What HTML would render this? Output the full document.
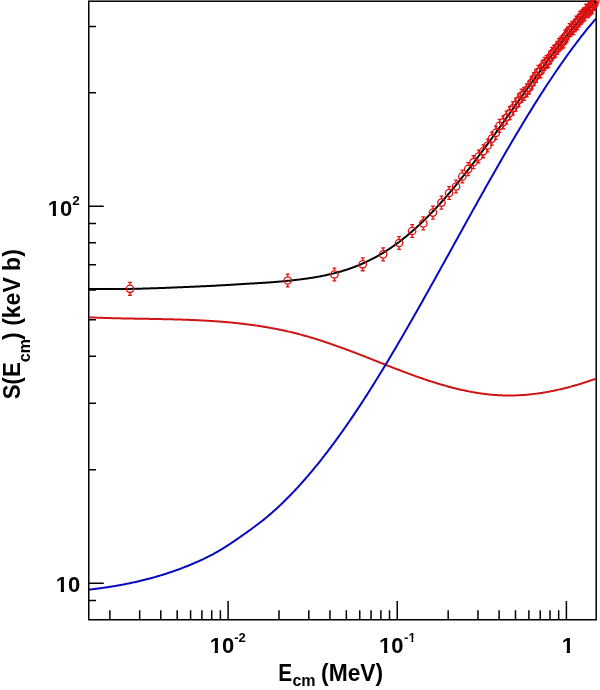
<!DOCTYPE html><html><head><meta charset="utf-8"><style>html,body{margin:0;padding:0;background:#fff;}svg{display:block}</style></head><body>
<svg width="600" height="690" viewBox="0 0 600 690">
<rect width="600" height="690" fill="#fff"/>
<rect x="88.75" y="1.2" width="507.45000000000005" height="618.55" fill="none" stroke="#000" stroke-width="1.5"/>
<path d="M109.88,619.75V610.35M139.67,619.75V610.35M160.80,619.75V610.35M177.19,619.75V610.35M190.59,619.75V610.35M201.91,619.75V610.35M211.72,619.75V610.35M220.37,619.75V610.35M228.11,619.75V601.00M279.03,619.75V610.35M308.82,619.75V610.35M329.95,619.75V610.35M346.34,619.75V610.35M359.74,619.75V610.35M371.06,619.75V610.35M380.87,619.75V610.35M389.52,619.75V610.35M397.26,619.75V601.00M448.18,619.75V610.35M477.97,619.75V610.35M499.10,619.75V610.35M515.49,619.75V610.35M528.89,619.75V610.35M540.21,619.75V610.35M550.02,619.75V610.35M558.67,619.75V610.35M566.41,619.75V601.00M88.75,600.47H96.05M88.75,583.22H103.75M88.75,469.75H96.05M88.75,403.37H96.05M88.75,356.28H96.05M88.75,319.75H96.05M88.75,289.90H96.05M88.75,264.67H96.05M88.75,242.81H96.05M88.75,223.53H96.05M88.75,206.28H103.75M88.75,92.81H96.05M88.75,26.43H96.05" stroke="#000" stroke-width="1.5" fill="none"/>
<defs><clipPath id="c"><rect x="88.75" y="1.2" width="507.45000000000005" height="618.55"/></clipPath></defs>
<g clip-path="url(#c)" fill="none" stroke-width="2.0" stroke-linejoin="round">
<path d="M88.75,317.32 L89.75,317.36 L90.75,317.41 L91.75,317.45 L92.75,317.50 L93.75,317.54 L94.75,317.58 L95.75,317.62 L96.75,317.66 L97.75,317.70 L98.75,317.73 L99.75,317.77 L100.75,317.81 L101.75,317.84 L102.75,317.87 L103.75,317.91 L104.75,317.94 L105.75,317.97 L106.75,318.00 L107.75,318.03 L108.75,318.06 L109.75,318.09 L110.75,318.12 L111.75,318.14 L112.75,318.17 L113.75,318.20 L114.75,318.22 L115.75,318.25 L116.75,318.27 L117.75,318.29 L118.75,318.32 L119.75,318.34 L120.75,318.36 L121.75,318.38 L122.75,318.41 L123.75,318.43 L124.75,318.45 L125.75,318.47 L126.75,318.49 L127.75,318.51 L128.75,318.53 L129.75,318.54 L130.75,318.56 L131.75,318.58 L132.75,318.60 L133.75,318.62 L134.75,318.63 L135.75,318.65 L136.75,318.67 L137.75,318.69 L138.75,318.70 L139.75,318.72 L140.75,318.74 L141.75,318.75 L142.75,318.77 L143.75,318.79 L144.75,318.81 L145.75,318.82 L146.75,318.84 L147.75,318.86 L148.75,318.87 L149.75,318.89 L150.75,318.91 L151.75,318.93 L152.75,318.94 L153.75,318.96 L154.75,318.98 L155.75,319.00 L156.75,319.02 L157.75,319.04 L158.75,319.05 L159.75,319.07 L160.75,319.09 L161.75,319.11 L162.75,319.13 L163.75,319.16 L164.75,319.18 L165.75,319.20 L166.75,319.22 L167.75,319.24 L168.75,319.27 L169.75,319.29 L170.75,319.31 L171.75,319.34 L172.75,319.37 L173.75,319.39 L174.75,319.42 L175.75,319.45 L176.75,319.47 L177.75,319.50 L178.75,319.53 L179.75,319.56 L180.75,319.59 L181.75,319.62 L182.75,319.66 L183.75,319.69 L184.75,319.72 L185.75,319.76 L186.75,319.79 L187.75,319.83 L188.75,319.87 L189.75,319.91 L190.75,319.94 L191.75,319.98 L192.75,320.03 L193.75,320.07 L194.75,320.11 L195.75,320.16 L196.75,320.20 L197.75,320.25 L198.75,320.30 L199.75,320.34 L200.75,320.39 L201.75,320.44 L202.75,320.50 L203.75,320.55 L204.75,320.60 L205.75,320.66 L206.75,320.72 L207.75,320.78 L208.75,320.84 L209.75,320.90 L210.75,320.96 L211.75,321.02 L212.75,321.09 L213.75,321.15 L214.75,321.22 L215.75,321.29 L216.75,321.36 L217.75,321.44 L218.75,321.51 L219.75,321.58 L220.75,321.66 L221.75,321.74 L222.75,321.82 L223.75,321.90 L224.75,321.98 L225.75,322.07 L226.75,322.16 L227.75,322.24 L228.75,322.33 L229.75,322.43 L230.75,322.52 L231.75,322.62 L232.75,322.71 L233.75,322.81 L234.75,322.91 L235.75,323.01 L236.75,323.12 L237.75,323.23 L238.75,323.33 L239.75,323.44 L240.75,323.56 L241.75,323.67 L242.75,323.79 L243.75,323.90 L244.75,324.02 L245.75,324.15 L246.75,324.27 L247.75,324.40 L248.75,324.53 L249.75,324.66 L250.75,324.79 L251.75,324.92 L252.75,325.06 L253.75,325.20 L254.75,325.34 L255.75,325.49 L256.75,325.63 L257.75,325.78 L258.75,325.93 L259.75,326.08 L260.75,326.24 L261.75,326.40 L262.75,326.56 L263.75,326.72 L264.75,326.89 L265.75,327.05 L266.75,327.22 L267.75,327.40 L268.75,327.57 L269.75,327.75 L270.75,327.93 L271.75,328.11 L272.75,328.30 L273.75,328.48 L274.75,328.67 L275.75,328.87 L276.75,329.06 L277.75,329.26 L278.75,329.46 L279.75,329.67 L280.75,329.87 L281.75,330.08 L282.75,330.30 L283.75,330.51 L284.75,330.73 L285.75,330.95 L286.75,331.17 L287.75,331.40 L288.75,331.63 L289.75,331.86 L290.75,332.10 L291.75,332.34 L292.75,332.58 L293.75,332.82 L294.75,333.07 L295.75,333.32 L296.75,333.57 L297.75,333.83 L298.75,334.09 L299.75,334.35 L300.75,334.62 L301.75,334.89 L302.75,335.16 L303.75,335.44 L304.75,335.72 L305.75,336.00 L306.75,336.28 L307.75,336.57 L308.75,336.86 L309.75,337.15 L310.75,337.45 L311.75,337.75 L312.75,338.05 L313.75,338.35 L314.75,338.66 L315.75,338.97 L316.75,339.28 L317.75,339.60 L318.75,339.91 L319.75,340.23 L320.75,340.56 L321.75,340.88 L322.75,341.21 L323.75,341.53 L324.75,341.87 L325.75,342.20 L326.75,342.53 L327.75,342.87 L328.75,343.21 L329.75,343.55 L330.75,343.90 L331.75,344.24 L332.75,344.59 L333.75,344.94 L334.75,345.29 L335.75,345.65 L336.75,346.00 L337.75,346.36 L338.75,346.72 L339.75,347.08 L340.75,347.44 L341.75,347.80 L342.75,348.17 L343.75,348.54 L344.75,348.91 L345.75,349.28 L346.75,349.65 L347.75,350.02 L348.75,350.39 L349.75,350.77 L350.75,351.15 L351.75,351.52 L352.75,351.90 L353.75,352.28 L354.75,352.66 L355.75,353.05 L356.75,353.43 L357.75,353.81 L358.75,354.20 L359.75,354.59 L360.75,354.97 L361.75,355.36 L362.75,355.75 L363.75,356.14 L364.75,356.53 L365.75,356.92 L366.75,357.31 L367.75,357.71 L368.75,358.10 L369.75,358.49 L370.75,358.89 L371.75,359.28 L372.75,359.68 L373.75,360.07 L374.75,360.47 L375.75,360.87 L376.75,361.26 L377.75,361.66 L378.75,362.06 L379.75,362.45 L380.75,362.85 L381.75,363.25 L382.75,363.64 L383.75,364.04 L384.75,364.43 L385.75,364.83 L386.75,365.22 L387.75,365.62 L388.75,366.01 L389.75,366.41 L390.75,366.80 L391.75,367.19 L392.75,367.58 L393.75,367.97 L394.75,368.36 L395.75,368.75 L396.75,369.14 L397.75,369.52 L398.75,369.91 L399.75,370.29 L400.75,370.67 L401.75,371.05 L402.75,371.43 L403.75,371.81 L404.75,372.19 L405.75,372.56 L406.75,372.93 L407.75,373.31 L408.75,373.68 L409.75,374.04 L410.75,374.41 L411.75,374.78 L412.75,375.14 L413.75,375.50 L414.75,375.86 L415.75,376.22 L416.75,376.57 L417.75,376.93 L418.75,377.28 L419.75,377.63 L420.75,377.98 L421.75,378.32 L422.75,378.66 L423.75,379.01 L424.75,379.34 L425.75,379.68 L426.75,380.01 L427.75,380.35 L428.75,380.68 L429.75,381.00 L430.75,381.33 L431.75,381.65 L432.75,381.97 L433.75,382.28 L434.75,382.60 L435.75,382.91 L436.75,383.22 L437.75,383.52 L438.75,383.82 L439.75,384.12 L440.75,384.42 L441.75,384.71 L442.75,385.01 L443.75,385.29 L444.75,385.58 L445.75,385.86 L446.75,386.14 L447.75,386.41 L448.75,386.69 L449.75,386.95 L450.75,387.22 L451.75,387.48 L452.75,387.74 L453.75,387.99 L454.75,388.25 L455.75,388.49 L456.75,388.74 L457.75,388.98 L458.75,389.22 L459.75,389.45 L460.75,389.68 L461.75,389.91 L462.75,390.13 L463.75,390.35 L464.75,390.56 L465.75,390.77 L466.75,390.98 L467.75,391.18 L468.75,391.38 L469.75,391.57 L470.75,391.76 L471.75,391.95 L472.75,392.13 L473.75,392.31 L474.75,392.48 L475.75,392.65 L476.75,392.81 L477.75,392.97 L478.75,393.13 L479.75,393.28 L480.75,393.43 L481.75,393.57 L482.75,393.70 L483.75,393.84 L484.75,393.96 L485.75,394.09 L486.75,394.21 L487.75,394.32 L488.75,394.43 L489.75,394.53 L490.75,394.63 L491.75,394.72 L492.75,394.81 L493.75,394.89 L494.75,394.97 L495.75,395.04 L496.75,395.11 L497.75,395.18 L498.75,395.23 L499.75,395.28 L500.75,395.33 L501.75,395.37 L502.75,395.41 L503.75,395.44 L504.75,395.46 L505.75,395.48 L506.75,395.50 L507.75,395.51 L508.75,395.51 L509.75,395.51 L510.75,395.50 L511.75,395.49 L512.75,395.48 L513.75,395.46 L514.75,395.43 L515.75,395.40 L516.75,395.36 L517.75,395.32 L518.75,395.27 L519.75,395.22 L520.75,395.17 L521.75,395.10 L522.75,395.04 L523.75,394.97 L524.75,394.89 L525.75,394.81 L526.75,394.73 L527.75,394.64 L528.75,394.54 L529.75,394.44 L530.75,394.34 L531.75,394.23 L532.75,394.12 L533.75,394.00 L534.75,393.88 L535.75,393.75 L536.75,393.62 L537.75,393.48 L538.75,393.34 L539.75,393.20 L540.75,393.05 L541.75,392.89 L542.75,392.74 L543.75,392.57 L544.75,392.41 L545.75,392.24 L546.75,392.06 L547.75,391.88 L548.75,391.70 L549.75,391.51 L550.75,391.32 L551.75,391.12 L552.75,390.92 L553.75,390.71 L554.75,390.51 L555.75,390.29 L556.75,390.08 L557.75,389.86 L558.75,389.63 L559.75,389.40 L560.75,389.17 L561.75,388.93 L562.75,388.69 L563.75,388.45 L564.75,388.20 L565.75,387.95 L566.75,387.69 L567.75,387.43 L568.75,387.17 L569.75,386.90 L570.75,386.63 L571.75,386.36 L572.75,386.08 L573.75,385.80 L574.75,385.51 L575.75,385.22 L576.75,384.93 L577.75,384.64 L578.75,384.34 L579.75,384.03 L580.75,383.73 L581.75,383.42 L582.75,383.10 L583.75,382.79 L584.75,382.47 L585.75,382.14 L586.75,381.82 L587.75,381.49 L588.75,381.16 L589.75,380.82 L590.75,380.48 L591.75,380.14 L592.75,379.79 L593.75,379.44 L594.75,379.09 L595.75,378.74 L596.20,378.57" stroke="#d01414"/>
<path d="M88.75,589.61 L89.75,589.50 L90.75,589.39 L91.75,589.27 L92.75,589.16 L93.75,589.04 L94.75,588.92 L95.75,588.79 L96.75,588.67 L97.75,588.54 L98.75,588.41 L99.75,588.28 L100.75,588.15 L101.75,588.01 L102.75,587.87 L103.75,587.73 L104.75,587.59 L105.75,587.45 L106.75,587.30 L107.75,587.15 L108.75,587.00 L109.75,586.84 L110.75,586.69 L111.75,586.53 L112.75,586.37 L113.75,586.20 L114.75,586.04 L115.75,585.87 L116.75,585.70 L117.75,585.52 L118.75,585.35 L119.75,585.17 L120.75,584.99 L121.75,584.80 L122.75,584.61 L123.75,584.42 L124.75,584.23 L125.75,584.04 L126.75,583.84 L127.75,583.64 L128.75,583.44 L129.75,583.23 L130.75,583.02 L131.75,582.81 L132.75,582.60 L133.75,582.38 L134.75,582.16 L135.75,581.93 L136.75,581.71 L137.75,581.48 L138.75,581.25 L139.75,581.01 L140.75,580.78 L141.75,580.53 L142.75,580.29 L143.75,580.04 L144.75,579.79 L145.75,579.54 L146.75,579.28 L147.75,579.03 L148.75,578.76 L149.75,578.50 L150.75,578.23 L151.75,577.96 L152.75,577.68 L153.75,577.40 L154.75,577.12 L155.75,576.84 L156.75,576.55 L157.75,576.26 L158.75,575.96 L159.75,575.66 L160.75,575.36 L161.75,575.05 L162.75,574.75 L163.75,574.43 L164.75,574.12 L165.75,573.80 L166.75,573.48 L167.75,573.15 L168.75,572.82 L169.75,572.49 L170.75,572.15 L171.75,571.81 L172.75,571.46 L173.75,571.12 L174.75,570.76 L175.75,570.41 L176.75,570.05 L177.75,569.69 L178.75,569.32 L179.75,568.95 L180.75,568.58 L181.75,568.20 L182.75,567.82 L183.75,567.43 L184.75,567.04 L185.75,566.65 L186.75,566.25 L187.75,565.85 L188.75,565.45 L189.75,565.04 L190.75,564.62 L191.75,564.21 L192.75,563.79 L193.75,563.36 L194.75,562.93 L195.75,562.50 L196.75,562.06 L197.75,561.62 L198.75,561.17 L199.75,560.72 L200.75,560.26 L201.75,559.80 L202.75,559.33 L203.75,558.86 L204.75,558.38 L205.75,557.90 L206.75,557.41 L207.75,556.91 L208.75,556.41 L209.75,555.90 L210.75,555.38 L211.75,554.86 L212.75,554.33 L213.75,553.79 L214.75,553.24 L215.75,552.69 L216.75,552.13 L217.75,551.56 L218.75,550.98 L219.75,550.40 L220.75,549.80 L221.75,549.20 L222.75,548.59 L223.75,547.97 L224.75,547.34 L225.75,546.70 L226.75,546.06 L227.75,545.42 L228.75,544.76 L229.75,544.10 L230.75,543.44 L231.75,542.77 L232.75,542.10 L233.75,541.42 L234.75,540.73 L235.75,540.05 L236.75,539.36 L237.75,538.67 L238.75,537.97 L239.75,537.27 L240.75,536.57 L241.75,535.87 L242.75,535.17 L243.75,534.47 L244.75,533.76 L245.75,533.06 L246.75,532.35 L247.75,531.64 L248.75,530.92 L249.75,530.21 L250.75,529.49 L251.75,528.76 L252.75,528.03 L253.75,527.30 L254.75,526.56 L255.75,525.81 L256.75,525.06 L257.75,524.31 L258.75,523.54 L259.75,522.77 L260.75,522.00 L261.75,521.21 L262.75,520.42 L263.75,519.61 L264.75,518.80 L265.75,517.99 L266.75,517.16 L267.75,516.32 L268.75,515.48 L269.75,514.62 L270.75,513.76 L271.75,512.89 L272.75,512.01 L273.75,511.12 L274.75,510.22 L275.75,509.32 L276.75,508.40 L277.75,507.48 L278.75,506.55 L279.75,505.61 L280.75,504.67 L281.75,503.71 L282.75,502.75 L283.75,501.77 L284.75,500.79 L285.75,499.81 L286.75,498.81 L287.75,497.81 L288.75,496.79 L289.75,495.77 L290.75,494.74 L291.75,493.71 L292.75,492.66 L293.75,491.61 L294.75,490.55 L295.75,489.48 L296.75,488.40 L297.75,487.32 L298.75,486.22 L299.75,485.12 L300.75,484.02 L301.75,482.90 L302.75,481.78 L303.75,480.65 L304.75,479.51 L305.75,478.36 L306.75,477.21 L307.75,476.05 L308.75,474.88 L309.75,473.70 L310.75,472.52 L311.75,471.32 L312.75,470.13 L313.75,468.92 L314.75,467.71 L315.75,466.48 L316.75,465.26 L317.75,464.02 L318.75,462.78 L319.75,461.53 L320.75,460.27 L321.75,459.00 L322.75,457.73 L323.75,456.45 L324.75,455.17 L325.75,453.87 L326.75,452.57 L327.75,451.27 L328.75,449.95 L329.75,448.63 L330.75,447.30 L331.75,445.97 L332.75,444.62 L333.75,443.28 L334.75,441.92 L335.75,440.56 L336.75,439.19 L337.75,437.81 L338.75,436.43 L339.75,435.04 L340.75,433.64 L341.75,432.24 L342.75,430.83 L343.75,429.42 L344.75,427.99 L345.75,426.56 L346.75,425.13 L347.75,423.69 L348.75,422.24 L349.75,420.78 L350.75,419.32 L351.75,417.86 L352.75,416.38 L353.75,414.90 L354.75,413.41 L355.75,411.92 L356.75,410.42 L357.75,408.92 L358.75,407.41 L359.75,405.89 L360.75,404.37 L361.75,402.84 L362.75,401.30 L363.75,399.76 L364.75,398.21 L365.75,396.66 L366.75,395.10 L367.75,393.53 L368.75,391.96 L369.75,390.39 L370.75,388.81 L371.75,387.22 L372.75,385.63 L373.75,384.03 L374.75,382.43 L375.75,380.82 L376.75,379.21 L377.75,377.59 L378.75,375.97 L379.75,374.34 L380.75,372.71 L381.75,371.07 L382.75,369.43 L383.75,367.78 L384.75,366.13 L385.75,364.48 L386.75,362.82 L387.75,361.15 L388.75,359.48 L389.75,357.81 L390.75,356.13 L391.75,354.45 L392.75,352.76 L393.75,351.08 L394.75,349.38 L395.75,347.68 L396.75,345.98 L397.75,344.28 L398.75,342.57 L399.75,340.86 L400.75,339.14 L401.75,337.42 L402.75,335.70 L403.75,333.98 L404.75,332.25 L405.75,330.52 L406.75,328.78 L407.75,327.04 L408.75,325.30 L409.75,323.56 L410.75,321.81 L411.75,320.06 L412.75,318.31 L413.75,316.55 L414.75,314.79 L415.75,313.03 L416.75,311.27 L417.75,309.50 L418.75,307.74 L419.75,305.97 L420.75,304.19 L421.75,302.42 L422.75,300.64 L423.75,298.86 L424.75,297.08 L425.75,295.30 L426.75,293.52 L427.75,291.73 L428.75,289.94 L429.75,288.15 L430.75,286.36 L431.75,284.57 L432.75,282.78 L433.75,280.98 L434.75,279.18 L435.75,277.39 L436.75,275.59 L437.75,273.79 L438.75,271.98 L439.75,270.18 L440.75,268.38 L441.75,266.58 L442.75,264.77 L443.75,262.96 L444.75,261.16 L445.75,259.35 L446.75,257.54 L447.75,255.74 L448.75,253.93 L449.75,252.12 L450.75,250.31 L451.75,248.50 L452.75,246.69 L453.75,244.88 L454.75,243.07 L455.75,241.26 L456.75,239.46 L457.75,237.65 L458.75,235.84 L459.75,234.03 L460.75,232.22 L461.75,230.41 L462.75,228.61 L463.75,226.80 L464.75,224.99 L465.75,223.19 L466.75,221.38 L467.75,219.58 L468.75,217.78 L469.75,215.98 L470.75,214.18 L471.75,212.38 L472.75,210.58 L473.75,208.78 L474.75,206.98 L475.75,205.19 L476.75,203.40 L477.75,201.60 L478.75,199.81 L479.75,198.03 L480.75,196.24 L481.75,194.45 L482.75,192.67 L483.75,190.89 L484.75,189.11 L485.75,187.33 L486.75,185.56 L487.75,183.78 L488.75,182.01 L489.75,180.24 L490.75,178.48 L491.75,176.71 L492.75,174.95 L493.75,173.19 L494.75,171.44 L495.75,169.68 L496.75,167.93 L497.75,166.18 L498.75,164.44 L499.75,162.70 L500.75,160.96 L501.75,159.22 L502.75,157.49 L503.75,155.76 L504.75,154.03 L505.75,152.31 L506.75,150.59 L507.75,148.87 L508.75,147.15 L509.75,145.45 L510.75,143.74 L511.75,142.04 L512.75,140.34 L513.75,138.64 L514.75,136.95 L515.75,135.27 L516.75,133.58 L517.75,131.90 L518.75,130.23 L519.75,128.56 L520.75,126.89 L521.75,125.23 L522.75,123.57 L523.75,121.92 L524.75,120.27 L525.75,118.63 L526.75,116.99 L527.75,115.35 L528.75,113.72 L529.75,112.10 L530.75,110.48 L531.75,108.86 L532.75,107.25 L533.75,105.65 L534.75,104.05 L535.75,102.46 L536.75,100.87 L537.75,99.28 L538.75,97.71 L539.75,96.13 L540.75,94.57 L541.75,93.01 L542.75,91.45 L543.75,89.90 L544.75,88.36 L545.75,86.82 L546.75,85.29 L547.75,83.76 L548.75,82.24 L549.75,80.73 L550.75,79.22 L551.75,77.72 L552.75,76.22 L553.75,74.74 L554.75,73.25 L555.75,71.78 L556.75,70.31 L557.75,68.85 L558.75,67.39 L559.75,65.94 L560.75,64.50 L561.75,63.07 L562.75,61.64 L563.75,60.22 L564.75,58.81 L565.75,57.40 L566.75,56.00 L567.75,54.61 L568.75,53.23 L569.75,51.85 L570.75,50.48 L571.75,49.12 L572.75,47.77 L573.75,46.42 L574.75,45.08 L575.75,43.75 L576.75,42.43 L577.75,41.11 L578.75,39.81 L579.75,38.51 L580.75,37.22 L581.75,35.94 L582.75,34.66 L583.75,33.40 L584.75,32.14 L585.75,30.89 L586.75,29.66 L587.75,28.42 L588.75,27.20 L589.75,25.99 L590.75,24.78 L591.75,23.59 L592.75,22.40 L593.75,21.22 L594.75,20.06 L595.75,18.90 L596.20,18.38" stroke="#0808c0"/>
<path d="M88.75,288.91 L89.75,288.93 L90.75,288.95 L91.75,288.97 L92.75,288.99 L93.75,289.00 L94.75,289.02 L95.75,289.03 L96.75,289.04 L97.75,289.06 L98.75,289.07 L99.75,289.08 L100.75,289.08 L101.75,289.09 L102.75,289.10 L103.75,289.10 L104.75,289.11 L105.75,289.11 L106.75,289.11 L107.75,289.11 L108.75,289.11 L109.75,289.11 L110.75,289.11 L111.75,289.11 L112.75,289.10 L113.75,289.10 L114.75,289.09 L115.75,289.08 L116.75,289.08 L117.75,289.07 L118.75,289.06 L119.75,289.05 L120.75,289.04 L121.75,289.03 L122.75,289.01 L123.75,289.00 L124.75,288.98 L125.75,288.97 L126.75,288.95 L127.75,288.94 L128.75,288.92 L129.75,288.90 L130.75,288.88 L131.75,288.86 L132.75,288.84 L133.75,288.82 L134.75,288.80 L135.75,288.77 L136.75,288.75 L137.75,288.73 L138.75,288.70 L139.75,288.68 L140.75,288.65 L141.75,288.63 L142.75,288.60 L143.75,288.57 L144.75,288.54 L145.75,288.51 L146.75,288.48 L147.75,288.46 L148.75,288.42 L149.75,288.39 L150.75,288.36 L151.75,288.33 L152.75,288.30 L153.75,288.27 L154.75,288.23 L155.75,288.20 L156.75,288.16 L157.75,288.13 L158.75,288.10 L159.75,288.06 L160.75,288.02 L161.75,287.99 L162.75,287.95 L163.75,287.91 L164.75,287.88 L165.75,287.84 L166.75,287.80 L167.75,287.76 L168.75,287.73 L169.75,287.69 L170.75,287.65 L171.75,287.61 L172.75,287.57 L173.75,287.53 L174.75,287.49 L175.75,287.45 L176.75,287.41 L177.75,287.37 L178.75,287.32 L179.75,287.28 L180.75,287.24 L181.75,287.20 L182.75,287.16 L183.75,287.11 L184.75,287.07 L185.75,287.03 L186.75,286.99 L187.75,286.94 L188.75,286.90 L189.75,286.86 L190.75,286.81 L191.75,286.77 L192.75,286.73 L193.75,286.68 L194.75,286.64 L195.75,286.59 L196.75,286.55 L197.75,286.50 L198.75,286.46 L199.75,286.41 L200.75,286.37 L201.75,286.32 L202.75,286.28 L203.75,286.23 L204.75,286.19 L205.75,286.14 L206.75,286.09 L207.75,286.05 L208.75,286.00 L209.75,285.95 L210.75,285.90 L211.75,285.85 L212.75,285.80 L213.75,285.75 L214.75,285.70 L215.75,285.64 L216.75,285.59 L217.75,285.54 L218.75,285.48 L219.75,285.43 L220.75,285.37 L221.75,285.31 L222.75,285.26 L223.75,285.20 L224.75,285.14 L225.75,285.08 L226.75,285.02 L227.75,284.95 L228.75,284.89 L229.75,284.83 L230.75,284.77 L231.75,284.71 L232.75,284.64 L233.75,284.58 L234.75,284.52 L235.75,284.46 L236.75,284.39 L237.75,284.33 L238.75,284.27 L239.75,284.21 L240.75,284.15 L241.75,284.09 L242.75,284.03 L243.75,283.97 L244.75,283.91 L245.75,283.85 L246.75,283.79 L247.75,283.73 L248.75,283.68 L249.75,283.62 L250.75,283.56 L251.75,283.51 L252.75,283.45 L253.75,283.39 L254.75,283.33 L255.75,283.28 L256.75,283.22 L257.75,283.16 L258.75,283.10 L259.75,283.04 L260.75,282.98 L261.75,282.92 L262.75,282.86 L263.75,282.79 L264.75,282.73 L265.75,282.66 L266.75,282.59 L267.75,282.52 L268.75,282.45 L269.75,282.38 L270.75,282.31 L271.75,282.24 L272.75,282.16 L273.75,282.08 L274.75,282.00 L275.75,281.92 L276.75,281.84 L277.75,281.76 L278.75,281.68 L279.75,281.59 L280.75,281.50 L281.75,281.41 L282.75,281.32 L283.75,281.23 L284.75,281.13 L285.75,281.04 L286.75,280.94 L287.75,280.84 L288.75,280.74 L289.75,280.64 L290.75,280.53 L291.75,280.42 L292.75,280.31 L293.75,280.20 L294.75,280.09 L295.75,279.98 L296.75,279.86 L297.75,279.74 L298.75,279.62 L299.75,279.49 L300.75,279.37 L301.75,279.24 L302.75,279.11 L303.75,278.97 L304.75,278.84 L305.75,278.70 L306.75,278.56 L307.75,278.41 L308.75,278.27 L309.75,278.11 L310.75,277.96 L311.75,277.80 L312.75,277.64 L313.75,277.48 L314.75,277.31 L315.75,277.14 L316.75,276.97 L317.75,276.79 L318.75,276.61 L319.75,276.42 L320.75,276.23 L321.75,276.04 L322.75,275.84 L323.75,275.64 L324.75,275.43 L325.75,275.22 L326.75,275.01 L327.75,274.79 L328.75,274.56 L329.75,274.33 L330.75,274.10 L331.75,273.86 L332.75,273.61 L333.75,273.36 L334.75,273.11 L335.75,272.85 L336.75,272.58 L337.75,272.31 L338.75,272.03 L339.75,271.75 L340.75,271.46 L341.75,271.17 L342.75,270.87 L343.75,270.56 L344.75,270.25 L345.75,269.93 L346.75,269.61 L347.75,269.27 L348.75,268.94 L349.75,268.59 L350.75,268.24 L351.75,267.88 L352.75,267.52 L353.75,267.15 L354.75,266.77 L355.75,266.38 L356.75,265.99 L357.75,265.59 L358.75,265.18 L359.75,264.77 L360.75,264.34 L361.75,263.91 L362.75,263.48 L363.75,263.03 L364.75,262.58 L365.75,262.12 L366.75,261.65 L367.75,261.17 L368.75,260.69 L369.75,260.20 L370.75,259.70 L371.75,259.19 L372.75,258.67 L373.75,258.14 L374.75,257.61 L375.75,257.07 L376.75,256.52 L377.75,255.96 L378.75,255.39 L379.75,254.82 L380.75,254.23 L381.75,253.64 L382.75,253.04 L383.75,252.43 L384.75,251.81 L385.75,251.18 L386.75,250.55 L387.75,249.90 L388.75,249.24 L389.75,248.58 L390.75,247.91 L391.75,247.23 L392.75,246.54 L393.75,245.84 L394.75,245.13 L395.75,244.41 L396.75,243.68 L397.75,242.94 L398.75,242.20 L399.75,241.44 L400.75,240.68 L401.75,239.91 L402.75,239.12 L403.75,238.33 L404.75,237.53 L405.75,236.72 L406.75,235.90 L407.75,235.07 L408.75,234.24 L409.75,233.39 L410.75,232.54 L411.75,231.67 L412.75,230.80 L413.75,229.92 L414.75,229.03 L415.75,228.13 L416.75,227.22 L417.75,226.30 L418.75,225.37 L419.75,224.44 L420.75,223.49 L421.75,222.54 L422.75,221.58 L423.75,220.61 L424.75,219.63 L425.75,218.64 L426.75,217.65 L427.75,216.64 L428.75,215.63 L429.75,214.61 L430.75,213.58 L431.75,212.55 L432.75,211.50 L433.75,210.45 L434.75,209.39 L435.75,208.32 L436.75,207.24 L437.75,206.16 L438.75,205.06 L439.75,203.96 L440.75,202.86 L441.75,201.74 L442.75,200.62 L443.75,199.49 L444.75,198.35 L445.75,197.21 L446.75,196.06 L447.75,194.90 L448.75,193.73 L449.75,192.56 L450.75,191.38 L451.75,190.20 L452.75,189.00 L453.75,187.80 L454.75,186.60 L455.75,185.39 L456.75,184.17 L457.75,182.94 L458.75,181.71 L459.75,180.48 L460.75,179.24 L461.75,177.99 L462.75,176.73 L463.75,175.48 L464.75,174.21 L465.75,172.94 L466.75,171.67 L467.75,170.39 L468.75,169.10 L469.75,167.81 L470.75,166.51 L471.75,165.21 L472.75,163.91 L473.75,162.60 L474.75,161.28 L475.75,159.97 L476.75,158.64 L477.75,157.32 L478.75,155.98 L479.75,154.65 L480.75,153.31 L481.75,151.97 L482.75,150.62 L483.75,149.27 L484.75,147.92 L485.75,146.56 L486.75,145.20 L487.75,143.84 L488.75,142.47 L489.75,141.10 L490.75,139.73 L491.75,138.36 L492.75,136.98 L493.75,135.60 L494.75,134.22 L495.75,132.84 L496.75,131.45 L497.75,130.06 L498.75,128.67 L499.75,127.28 L500.75,125.89 L501.75,124.49 L502.75,123.10 L503.75,121.70 L504.75,120.30 L505.75,118.90 L506.75,117.50 L507.75,116.09 L508.75,114.69 L509.75,113.29 L510.75,111.88 L511.75,110.48 L512.75,109.07 L513.75,107.67 L514.75,106.26 L515.75,104.86 L516.75,103.45 L517.75,102.05 L518.75,100.64 L519.75,99.24 L520.75,97.84 L521.75,96.43 L522.75,95.03 L523.75,93.63 L524.75,92.23 L525.75,90.83 L526.75,89.43 L527.75,88.04 L528.75,86.64 L529.75,85.25 L530.75,83.86 L531.75,82.47 L532.75,81.08 L533.75,79.70 L534.75,78.31 L535.75,76.93 L536.75,75.55 L537.75,74.17 L538.75,72.80 L539.75,71.43 L540.75,70.06 L541.75,68.69 L542.75,67.33 L543.75,65.97 L544.75,64.61 L545.75,63.26 L546.75,61.91 L547.75,60.56 L548.75,59.22 L549.75,57.88 L550.75,56.54 L551.75,55.21 L552.75,53.88 L553.75,52.55 L554.75,51.23 L555.75,49.91 L556.75,48.60 L557.75,47.29 L558.75,45.99 L559.75,44.69 L560.75,43.40 L561.75,42.11 L562.75,40.82 L563.75,39.54 L564.75,38.26 L565.75,36.99 L566.75,35.73 L567.75,34.47 L568.75,33.21 L569.75,31.96 L570.75,30.72 L571.75,29.48 L572.75,28.25 L573.75,27.02 L574.75,25.80 L575.75,24.59 L576.75,23.38 L577.75,22.18 L578.75,20.98 L579.75,19.79 L580.75,18.60 L581.75,17.43 L582.75,16.26 L583.75,15.09 L584.75,13.93 L585.75,12.78 L586.75,11.64 L587.75,10.50 L588.75,9.37 L589.75,8.25 L590.75,7.13 L591.75,6.02 L592.75,4.92 L593.75,3.83 L594.75,2.74 L595.75,1.66 L596.20,1.18" stroke="#000" stroke-width="2.0"/>
</g>
<g fill="none" stroke="#e01010" stroke-width="1.3"><circle cx="130.00" cy="288.80" r="3.7"/><path d="M130.00,285.10V282.35M130.00,292.50V295.25M128.10,282.35H131.90M128.10,295.25H131.90"/><circle cx="287.69" cy="280.50" r="3.7"/><path d="M287.69,276.80V274.05M287.69,284.20V286.95M285.79,274.05H289.59M285.79,286.95H289.59"/><circle cx="334.41" cy="274.50" r="3.7"/><path d="M334.41,270.80V268.05M334.41,278.20V280.95M332.51,268.05H336.31M332.51,280.95H336.31"/><circle cx="362.74" cy="264.30" r="3.7"/><path d="M362.74,260.60V257.85M362.74,268.00V270.75M360.84,257.85H364.64M360.84,270.75H364.64"/><circle cx="383.13" cy="254.40" r="3.7"/><path d="M383.13,250.70V247.95M383.13,258.10V260.85M381.23,247.95H385.03M381.23,260.85H385.03"/><circle cx="399.08" cy="243.00" r="3.7"/><path d="M399.08,239.30V236.55M399.08,246.70V249.45M397.18,236.55H400.98M397.18,249.45H400.98"/><circle cx="412.17" cy="231.00" r="3.7"/><path d="M412.17,227.30V224.55M412.17,234.70V237.45M410.27,224.55H414.07M410.27,237.45H414.07"/><circle cx="423.28" cy="223.40" r="3.7"/><path d="M423.28,219.70V216.95M423.28,227.10V229.85M421.38,216.95H425.18M421.38,229.85H425.18"/><circle cx="432.93" cy="212.60" r="3.7"/><path d="M432.93,208.90V206.15M432.93,216.30V219.05M431.03,206.15H434.83M431.03,219.05H434.83"/><circle cx="441.46" cy="202.60" r="3.7"/><path d="M441.46,198.90V196.15M441.46,206.30V209.05M439.56,196.15H443.36M439.56,209.05H443.36"/><circle cx="449.10" cy="193.00" r="3.7"/><path d="M449.10,189.30V186.55M449.10,196.70V199.45M447.20,186.55H451.00M447.20,199.45H451.00"/><circle cx="456.02" cy="186.50" r="3.7"/><path d="M456.02,182.80V180.05M456.02,190.20V192.95M454.12,180.05H457.92M454.12,192.95H457.92"/><circle cx="462.34" cy="176.50" r="3.7"/><path d="M462.34,172.80V170.05M462.34,180.20V182.95M460.44,170.05H464.24M460.44,182.95H464.24"/><circle cx="468.16" cy="169.10" r="3.7"/><path d="M468.16,165.40V162.65M468.16,172.80V175.55M466.26,162.65H470.06M466.26,175.55H470.06"/><circle cx="473.55" cy="162.20" r="3.7"/><path d="M473.55,158.50V155.75M473.55,165.90V168.65M471.65,155.75H475.45M471.65,168.65H475.45"/><circle cx="478.58" cy="156.50" r="3.7"/><path d="M478.58,152.80V150.05M478.58,160.20V162.95M476.68,150.05H480.48M476.68,162.95H480.48"/><circle cx="483.28" cy="151.30" r="3.7"/><path d="M483.28,147.60V144.85M483.28,155.00V157.75M481.38,144.85H485.18M481.38,157.75H485.18"/><circle cx="487.70" cy="145.51" r="3.7"/><path d="M487.70,141.81V139.06M487.70,149.21V151.96M485.80,139.06H489.60M485.80,151.96H489.60"/><circle cx="491.87" cy="138.59" r="3.7"/><path d="M491.87,134.89V132.14M491.87,142.29V145.04M489.97,132.14H493.77M489.97,145.04H493.77"/><circle cx="495.82" cy="132.83" r="3.7"/><path d="M495.82,129.13V126.38M495.82,136.53V139.28M493.92,126.38H497.72M493.92,139.28H497.72"/><circle cx="499.56" cy="125.87" r="3.7"/><path d="M499.56,122.17V119.42M499.56,129.57V132.32M497.66,119.42H501.46M497.66,132.32H501.46"/><circle cx="503.12" cy="122.32" r="3.7"/><path d="M503.12,118.62V115.87M503.12,126.02V128.77M501.22,115.87H505.02M501.22,128.77H505.02"/><circle cx="506.52" cy="117.50" r="3.7"/><path d="M506.52,113.80V111.05M506.52,121.20V123.95M504.62,111.05H508.42M504.62,123.95H508.42"/><circle cx="509.77" cy="113.19" r="3.7"/><path d="M509.77,109.49V106.74M509.77,116.89V119.64M507.87,106.74H511.67M507.87,119.64H511.67"/><circle cx="512.88" cy="108.33" r="3.7"/><path d="M512.88,104.63V101.88M512.88,112.03V114.78M510.98,101.88H514.78M510.98,114.78H514.78"/><circle cx="515.86" cy="104.66" r="3.7"/><path d="M515.86,100.96V98.21M515.86,108.36V111.11M513.96,98.21H517.76M513.96,111.11H517.76"/><circle cx="518.73" cy="100.24" r="3.7"/><path d="M518.73,96.54V93.79M518.73,103.94V106.69M516.83,93.79H520.63M516.83,106.69H520.63"/><circle cx="521.49" cy="95.62" r="3.7"/><path d="M521.49,91.92V89.17M521.49,99.32V102.07M519.59,89.17H523.39M519.59,102.07H523.39"/><circle cx="524.15" cy="93.87" r="3.7"/><path d="M524.15,90.17V87.42M524.15,97.57V100.32M522.25,87.42H526.05M522.25,100.32H526.05"/><circle cx="526.71" cy="90.28" r="3.7"/><path d="M526.71,86.58V83.83M526.71,93.98V96.73M524.81,83.83H528.61M524.81,96.73H528.61"/><circle cx="529.19" cy="87.56" r="3.7"/><path d="M529.19,83.86V81.11M529.19,91.26V94.01M527.29,81.11H531.09M527.29,94.01H531.09"/><circle cx="531.59" cy="82.73" r="3.7"/><path d="M531.59,79.03V76.28M531.59,86.43V89.18M529.69,76.28H533.49M529.69,89.18H533.49"/><circle cx="533.92" cy="79.10" r="3.7"/><path d="M533.92,75.40V72.65M533.92,82.80V85.55M532.02,72.65H535.82M532.02,85.55H535.82"/><circle cx="536.17" cy="75.86" r="3.7"/><path d="M536.17,72.16V69.41M536.17,79.56V82.31M534.27,69.41H538.07M534.27,82.31H538.07"/><circle cx="538.35" cy="71.95" r="3.7"/><path d="M538.35,68.25V65.50M538.35,75.65V78.40M536.45,65.50H540.25M536.45,78.40H540.25"/><circle cx="540.47" cy="71.32" r="3.7"/><path d="M540.47,67.62V64.87M540.47,75.02V77.77M538.57,64.87H542.37M538.57,77.77H542.37"/><circle cx="542.54" cy="66.63" r="3.7"/><path d="M542.54,62.93V60.18M542.54,70.33V73.08M540.64,60.18H544.44M540.64,73.08H544.44"/><circle cx="544.54" cy="63.83" r="3.7"/><path d="M544.54,60.13V57.38M544.54,67.53V70.28M542.64,57.38H546.44M542.64,70.28H546.44"/><circle cx="546.50" cy="62.07" r="3.7"/><path d="M546.50,58.37V55.62M546.50,65.77V68.52M544.60,55.62H548.40M544.60,68.52H548.40"/><circle cx="548.40" cy="61.03" r="3.7"/><path d="M548.40,57.33V54.58M548.40,64.73V67.48M546.50,54.58H550.30M546.50,67.48H550.30"/><circle cx="550.25" cy="57.42" r="3.7"/><path d="M550.25,53.72V50.97M550.25,61.12V63.87M548.35,50.97H552.15M548.35,63.87H552.15"/><circle cx="552.06" cy="53.87" r="3.7"/><path d="M552.06,50.17V47.42M552.06,57.57V60.32M550.16,47.42H553.96M550.16,60.32H553.96"/><circle cx="553.82" cy="51.81" r="3.7"/><path d="M553.82,48.11V45.36M553.82,55.51V58.26M551.92,45.36H555.72M551.92,58.26H555.72"/><circle cx="555.55" cy="50.74" r="3.7"/><path d="M555.55,47.04V44.29M555.55,54.44V57.19M553.65,44.29H557.45M553.65,57.19H557.45"/><circle cx="557.23" cy="47.83" r="3.7"/><path d="M557.23,44.13V41.38M557.23,51.53V54.28M555.33,41.38H559.13M555.33,54.28H559.13"/><circle cx="558.88" cy="45.13" r="3.7"/><path d="M558.88,41.43V38.68M558.88,48.83V51.58M556.98,38.68H560.78M556.98,51.58H560.78"/><circle cx="560.49" cy="43.53" r="3.7"/><path d="M560.49,39.83V37.08M560.49,47.23V49.98M558.59,37.08H562.39M558.59,49.98H562.39"/><circle cx="562.06" cy="42.37" r="3.7"/><path d="M562.06,38.67V35.92M562.06,46.07V48.82M560.16,35.92H563.96M560.16,48.82H563.96"/><circle cx="563.61" cy="41.50" r="3.7"/><path d="M563.61,37.80V35.05M563.61,45.20V47.95M561.71,35.05H565.51M561.71,47.95H565.51"/><circle cx="565.12" cy="36.68" r="3.7"/><path d="M565.12,32.98V30.23M565.12,40.38V43.13M563.22,30.23H567.02M563.22,43.13H567.02"/><circle cx="566.60" cy="35.36" r="3.7"/><path d="M566.60,31.66V28.91M566.60,39.06V41.81M564.70,28.91H568.50M564.70,41.81H568.50"/><circle cx="568.05" cy="33.37" r="3.7"/><path d="M568.05,29.67V26.92M568.05,37.07V39.82M566.15,26.92H569.95M566.15,39.82H569.95"/><circle cx="569.47" cy="30.13" r="3.7"/><path d="M569.47,26.43V23.68M569.47,33.83V36.58M567.57,23.68H571.37M567.57,36.58H571.37"/><circle cx="570.87" cy="29.74" r="3.7"/><path d="M570.87,26.04V23.29M570.87,33.44V36.19M568.97,23.29H572.77M568.97,36.19H572.77"/><circle cx="572.24" cy="27.96" r="3.7"/><path d="M572.24,24.26V21.51M572.24,31.66V34.41M570.34,21.51H574.14M570.34,34.41H574.14"/><circle cx="573.58" cy="28.24" r="3.7"/><path d="M573.58,24.54V21.79M573.58,31.94V34.69M571.68,21.79H575.48M571.68,34.69H575.48"/><circle cx="574.90" cy="25.50" r="3.7"/><path d="M574.90,21.80V19.05M574.90,29.20V31.95M573.00,19.05H576.80M573.00,31.95H576.80"/><circle cx="576.20" cy="22.58" r="3.7"/><path d="M576.20,18.88V16.13M576.20,26.28V29.03M574.30,16.13H578.10M574.30,29.03H578.10"/><circle cx="577.48" cy="23.09" r="3.7"/><path d="M577.48,19.39V16.64M577.48,26.79V29.54M575.58,16.64H579.38M575.58,29.54H579.38"/><circle cx="578.73" cy="20.68" r="3.7"/><path d="M578.73,16.98V14.23M578.73,24.38V27.13M576.83,14.23H580.63M576.83,27.13H580.63"/><circle cx="579.96" cy="17.97" r="3.7"/><path d="M579.96,14.27V11.52M579.96,21.67V24.42M578.06,11.52H581.86M578.06,24.42H581.86"/><circle cx="581.17" cy="17.57" r="3.7"/><path d="M581.17,13.87V11.12M581.17,21.27V24.02M579.27,11.12H583.07M579.27,24.02H583.07"/><circle cx="582.36" cy="16.18" r="3.7"/><path d="M582.36,12.48V9.73M582.36,19.88V22.63M580.46,9.73H584.26M580.46,22.63H584.26"/><circle cx="583.54" cy="14.55" r="3.7"/><path d="M583.54,10.85V8.10M583.54,18.25V21.00M581.64,8.10H585.44M581.64,21.00H585.44"/><circle cx="584.69" cy="14.03" r="3.7"/><path d="M584.69,10.33V7.58M584.69,17.73V20.48M582.79,7.58H586.59M582.79,20.48H586.59"/><circle cx="585.83" cy="10.67" r="3.7"/><path d="M585.83,6.97V4.22M585.83,14.37V17.12M583.93,4.22H587.73M583.93,17.12H587.73"/><circle cx="586.95" cy="11.17" r="3.7"/><path d="M586.95,7.47V4.72M586.95,14.87V17.62M585.05,4.72H588.85M585.05,17.62H588.85"/><circle cx="588.05" cy="11.07" r="3.7"/><path d="M588.05,7.37V4.62M588.05,14.77V17.52M586.15,4.62H589.95M586.15,17.52H589.95"/><circle cx="589.14" cy="9.70" r="3.7"/><path d="M589.14,6.00V3.25M589.14,13.40V16.15M587.24,3.25H591.04M587.24,16.15H591.04"/><circle cx="590.21" cy="8.73" r="3.7"/><path d="M590.21,5.03V2.28M590.21,12.43V15.18M588.31,2.28H592.11M588.31,15.18H592.11"/><circle cx="591.26" cy="7.57" r="3.7"/><path d="M591.26,3.87V1.12M591.26,11.27V14.02M589.36,1.12H593.16M589.36,14.02H593.16"/><circle cx="592.30" cy="6.75" r="3.7"/><path d="M592.30,3.05V0.30M592.30,10.45V13.20M590.40,0.30H594.20M590.40,13.20H594.20"/><circle cx="593.33" cy="3.28" r="3.7"/><path d="M593.33,-0.42V-3.17M593.33,6.98V9.73M591.43,-3.17H595.23M591.43,9.73H595.23"/><circle cx="594.34" cy="3.95" r="3.7"/><path d="M594.34,0.25V-2.50M594.34,7.65V10.40M592.44,-2.50H596.24M592.44,10.40H596.24"/><circle cx="595.34" cy="0.43" r="3.7"/><path d="M595.34,-3.27V-6.02M595.34,4.13V6.88M593.44,-6.02H597.24M593.44,6.88H597.24"/></g>
<g font-family="Liberation Sans, sans-serif" font-weight="bold" fill="#000" style="will-change:transform">
<text x="55.72" y="592.40" font-size="22">10</text>
<text x="47.72" y="215.70" font-size="22">10</text>
<text x="72.30" y="205.30" font-size="13.5">2</text>
<text x="209.67" y="652.50" font-size="22">10</text>
<text x="234.20" y="641.50" font-size="13">-2</text>
<text x="379.07" y="652.50" font-size="22">10</text>
<text x="404.10" y="641.50" font-size="13">-1</text>
<text x="561.67" y="653.40" font-size="22">1</text>
<text x="278.30" y="681.10" font-size="23" textLength="13.9" lengthAdjust="spacingAndGlyphs">E</text>
<text x="292.40" y="685.80" font-size="16">cm</text>
<text x="321.10" y="681.10" font-size="23" textLength="62.1" lengthAdjust="spacingAndGlyphs">(MeV)</text>
<text transform="translate(19.6,399.2) rotate(-90)" font-size="23" textLength="37.0" lengthAdjust="spacingAndGlyphs">S(E</text>
<text transform="translate(29.6,362.2) rotate(-90)" font-size="16">cm</text>
<text transform="translate(19.6,339.9) rotate(-90)" font-size="23">) (keV b)</text>
</g>
<rect x="56.38" y="588.56" width="4.38" height="4.44" fill="#fff"/>
<rect x="63.97" y="588.56" width="4.29" height="4.44" fill="#fff"/>
<rect x="48.38" y="211.86" width="4.38" height="4.44" fill="#fff"/>
<rect x="55.97" y="211.86" width="4.29" height="4.44" fill="#fff"/>
<rect x="210.33" y="648.66" width="4.38" height="4.44" fill="#fff"/>
<rect x="217.92" y="648.66" width="4.29" height="4.44" fill="#fff"/>
<rect x="379.73" y="648.66" width="4.38" height="4.44" fill="#fff"/>
<rect x="387.32" y="648.66" width="4.29" height="4.44" fill="#fff"/>
<rect x="562.33" y="649.56" width="4.38" height="4.44" fill="#fff"/>
<rect x="569.92" y="649.56" width="4.29" height="4.44" fill="#fff"/>
<rect x="408.82" y="638.57" width="2.59" height="3.53" fill="#fff"/>
<rect x="413.30" y="638.57" width="2.53" height="3.53" fill="#fff"/>
</svg></body></html>
